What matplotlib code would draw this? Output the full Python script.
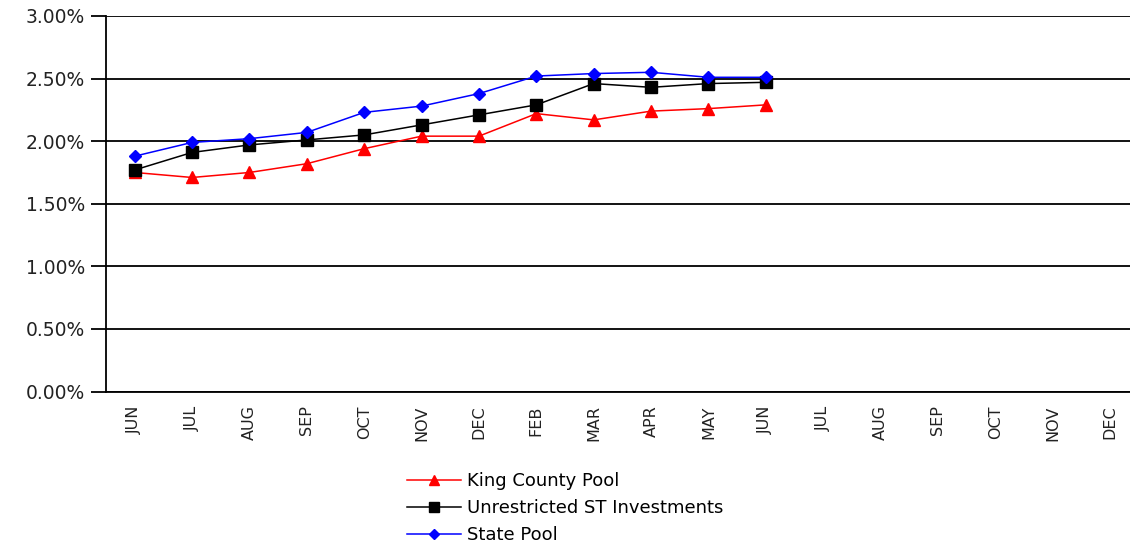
import matplotlib
matplotlib.use("Agg")
import matplotlib.pyplot as plt
from matplotlib.ticker import FuncFormatter

mois = ["JUN", "JUL", "AUG", "SEP", "OCT", "NOV", "DEC", "FEB", "MAR",
        "APR", "MAY", "JUN", "JUL", "AUG", "SEP", "OCT", "NOV", "DEC"]

# rendements en %, 12 premiers mois renseignés
king_county = [1.75, 1.71, 1.75, 1.82, 1.94, 2.04, 2.04, 2.22, 2.17, 2.24, 2.26, 2.29]
unrestricted = [1.77, 1.91, 1.97, 2.01, 2.05, 2.13, 2.21, 2.29, 2.46, 2.43, 2.46, 2.47]
state_pool = [1.88, 1.99, 2.02, 2.07, 2.23, 2.28, 2.38, 2.52, 2.54, 2.55, 2.51, 2.51]

y_ticks = [0, 0.5, 1.0, 1.5, 2.0, 2.5, 3.0]

plt.rcParams["font.family"] = "DejaVu Sans"

fig = plt.figure(figsize=(11.3, 5.5), dpi=100)
ax = fig.add_axes([0.0938, 0.288, 0.914, 0.683])

x = list(range(len(mois)))
n = len(king_county)

ax.plot(x[:n], king_county, color="red", marker="^", markersize=8,
        linewidth=1.1, label="King County Pool", zorder=3)
ax.plot(x[:n], unrestricted, color="black", marker="s", markersize=9,
        linewidth=1.1, label="Unrestricted ST Investments", zorder=4)
ax.plot(x[:n], state_pool, color="blue", marker="D", markersize=6.5,
        linewidth=1.1, label="State Pool", zorder=5)

ax.set_xlim(-0.5, len(mois) - 0.5)
ax.set_ylim(0, 3.0)
ax.set_yticks(y_ticks)
ax.yaxis.set_major_formatter(FuncFormatter(lambda v, p: f"{v:.2f}%"))
ax.set_xticks(x)
ax.set_xticklabels(mois, rotation=90)

ax.grid(axis="y", color="black", linewidth=1.3)
ax.set_axisbelow(True)
for s in ["top", "right"]:
    ax.spines[s].set_visible(False)
ax.spines["left"].set_linewidth(1.3)
ax.spines["bottom"].set_linewidth(1.3)
ax.tick_params(axis="y", length=11, width=1.3, labelsize=13.5,
               labelcolor="#222222", pad=4)
ax.tick_params(axis="x", length=0, labelsize=11.5, labelcolor="#222222", pad=10)

fig.legend(loc="upper left", bbox_to_anchor=(0.354, 0.155), frameon=False,
           fontsize=13, handlelength=3.0, labelspacing=0.5, markerscale=0.85,
           handletextpad=0.3, borderaxespad=0)

fig.savefig("out.png", dpi=100)
